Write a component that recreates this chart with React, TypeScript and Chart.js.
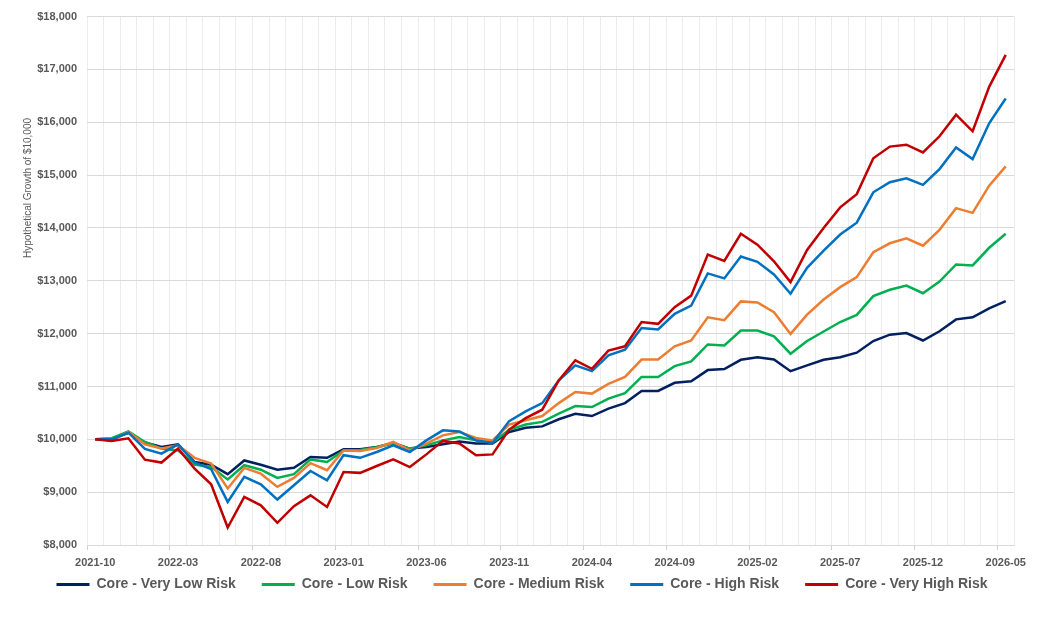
import { useEffect, useRef } from 'react';
import { Chart, registerables } from 'chart.js';

Chart.register(...registerables);

const months = [
  '2021-10', '2021-11', '2021-12',
  '2022-01', '2022-02', '2022-03', '2022-04', '2022-05', '2022-06', '2022-07', '2022-08', '2022-09', '2022-10', '2022-11', '2022-12',
  '2023-01', '2023-02', '2023-03', '2023-04', '2023-05', '2023-06', '2023-07', '2023-08', '2023-09', '2023-10', '2023-11', '2023-12',
  '2024-01', '2024-02', '2024-03', '2024-04', '2024-05', '2024-06', '2024-07', '2024-08', '2024-09', '2024-10', '2024-11', '2024-12',
  '2025-01', '2025-02', '2025-03', '2025-04', '2025-05', '2025-06', '2025-07', '2025-08', '2025-09', '2025-10', '2025-11', '2025-12',
  '2026-01', '2026-02', '2026-03', '2026-04', '2026-05',
];

const veryLowRisk = [
  10000, 10010, 10125, 9940, 9855, 9905, 9570, 9520, 9340, 9600,
  9520, 9425, 9460, 9665, 9650, 9810, 9810, 9855, 9930, 9825,
  9855, 9905, 9960, 9920, 9920, 10140, 10220, 10245, 10380, 10485,
  10440, 10580, 10685, 10915, 10915, 11070, 11100, 11310, 11330, 11505,
  11555, 11510, 11290, 11400, 11505, 11555, 11640, 11860, 11980, 12010,
  11870, 12045, 12270, 12310, 12480, 12615,
];

const lowRisk = [
  10000, 10020, 10150, 9950, 9825, 9790, 9520, 9475, 9240, 9510,
  9425, 9270, 9340, 9620, 9570, 9790, 9800, 9850, 9925, 9825,
  9885, 9980, 10045, 9980, 9940, 10180, 10280, 10330, 10485, 10630,
  10610, 10770, 10875, 11180, 11180, 11385, 11475, 11795, 11775, 12060,
  12060, 11950, 11620, 11860, 12040, 12220, 12355, 12710, 12830, 12910,
  12765, 12985, 13310, 13290, 13625, 13890,
];

const mediumRisk = [
  10000, 9980, 10140, 9905, 9825, 9885, 9650, 9540, 9070, 9460,
  9350, 9100, 9270, 9550, 9415, 9790, 9780, 9835, 9950, 9790,
  9920, 10075, 10140, 10025, 9980, 10280, 10360, 10440, 10685, 10895,
  10865, 11050, 11180, 11510, 11510, 11760, 11870, 12310, 12255, 12610,
  12590, 12405, 11995, 12360, 12645, 12880, 13070, 13540, 13710, 13805,
  13665, 13965, 14375, 14285, 14800, 15165,
];

const highRisk = [
  10000, 10000, 10125, 9820, 9730, 9905, 9560, 9435, 8815, 9290,
  9150, 8860, 9130, 9400, 9225, 9700, 9650, 9760, 9885, 9760,
  9980, 10170, 10150, 9980, 9930, 10345, 10530, 10685, 11115, 11400,
  11290, 11590, 11695, 12105, 12080, 12375, 12530, 13140, 13045, 13460,
  13360, 13120, 12755, 13245, 13570, 13875, 14100, 14675, 14865, 14940,
  14815, 15115, 15525, 15305, 15980, 16450,
];

const veryHighRisk = [
  10000, 9970, 10020, 9615, 9560, 9825, 9445, 9150, 8330, 8910,
  8750, 8420, 8735, 8940, 8720, 9380, 9365, 9495, 9620, 9475,
  9715, 9970, 9920, 9700, 9715, 10185, 10400, 10560, 11115, 11495,
  11335, 11680, 11760, 12220, 12185, 12500, 12720, 13495, 13375, 13890,
  13685, 13370, 12975, 13585, 14000, 14390, 14640, 15320, 15540, 15575,
  15430, 15735, 16145, 15830, 16670, 17275,
];

const seriesNames = [
  'Core - Very Low Risk',
  'Core - Low Risk',
  'Core - Medium Risk',
  'Core - High Risk',
  'Core - Very High Risk',
];
const seriesValues = [veryLowRisk, lowRisk, mediumRisk, highRisk, veryHighRisk];
const seriesColors = ['#002060', '#00B050', '#ED7D31', '#0070C0', '#C00000'];

const yAxisTitle = 'Hypothetical Growth of $10,000';
const yMin = 8000;
const yMax = 18000;
const yStep = 1000;
const labelEvery = 5;

const FONT = '"Liberation Sans", Arial, sans-serif';
const TEXT_COLOR = '#595959';

const X_AXIS_HEIGHT = 24;
const LEGEND_PAD = 26;
const LEGEND_ITEM_OFFSET = 32.5; // distance from plot bottom to legend row top
const LEGEND_X_SHIFT = 15;

export default function App() {
  const ref = useRef<HTMLCanvasElement>(null);

  useEffect(() => {
    if (!ref.current) return;

    const yTitlePlugin = {
      id: 'yTitlePlugin',
      afterDraw(chart: any) {
        const { ctx } = chart;
        ctx.save();
        ctx.translate(28, 188);
        ctx.rotate(-Math.PI / 2);
        ctx.font = `10px ${FONT}`;
        ctx.fillStyle = TEXT_COLOR;
        ctx.textAlign = 'center';
        ctx.textBaseline = 'middle';
        ctx.fillText(yAxisTitle, 0, 0);
        ctx.restore();
      },
    };

    const legendShiftPlugin = {
      id: 'legendShiftPlugin',
      afterLayout(chart: any) {
        const lg = chart.legend;
        if (!lg) return;
        const desiredTop = chart.chartArea.bottom + LEGEND_ITEM_OFFSET - LEGEND_PAD;
        const shift = desiredTop - lg.top;
        lg.top += shift;
        lg.bottom += shift;
        lg.left += LEGEND_X_SHIFT;
        lg.right += LEGEND_X_SHIFT;
      },
    };

    const chart = new Chart(ref.current, {
      type: 'line',
      data: {
        labels: months,
        datasets: seriesNames.map((name, i) => ({
          label: name,
          data: seriesValues[i],
          borderColor: seriesColors[i],
          backgroundColor: seriesColors[i],
          borderWidth: 2.5,
          pointRadius: 0,
          pointHoverRadius: 0,
          tension: 0,
          fill: false,
          order: seriesNames.length - 1 - i,
        })),
      },
      options: {
        responsive: false,
        animation: false,
        events: [],
        layout: { padding: { top: 16, right: 32, bottom: 0, left: 0 } },
        plugins: {
          legend: {
            position: 'bottom',
            maxHeight: 618 - 545 - X_AXIS_HEIGHT,
            labels: {
              boxWidth: 33,
              boxHeight: 3,
              padding: LEGEND_PAD,
              color: TEXT_COLOR,
              font: { family: FONT, size: 14, weight: 'bold' },
              sort: (a: any, b: any) => a.datasetIndex - b.datasetIndex,
              generateLabels: (c: any) =>
                (Chart.defaults.plugins.legend.labels as any)
                  .generateLabels(c)
                  .map((l: any) => ({ ...l, lineWidth: 0 })),
            },
          },
          tooltip: { enabled: false },
        },
        scales: {
          x: {
            offset: true,
            grid: {
              offset: true,
              color: '#ececec',
              lineWidth: 1,
              drawTicks: true,
              tickLength: 5,
              tickColor: (ctx: any) => (ctx.index % labelEvery === 0 ? '#d0d0d0' : 'rgba(0,0,0,0)'),
            },
            border: { color: '#d9d9d9' },
            ticks: {
              autoSkip: false,
              maxRotation: 0,
              minRotation: 0,
              padding: 6,
              color: TEXT_COLOR,
              font: { family: FONT, size: 11, weight: 'bold' },
              callback: (_v: any, i: number) => (i % labelEvery === 0 ? months[i] : ''),
            },
            afterFit: (s: any) => {
              s.height = X_AXIS_HEIGHT;
            },
          },
          y: {
            min: yMin,
            max: yMax,
            grid: { color: '#d9d9d9', drawTicks: false },
            border: { display: false },
            ticks: {
              stepSize: yStep,
              padding: 10,
              color: TEXT_COLOR,
              font: { family: FONT, size: 11, weight: 'bold' },
              callback: (v: any) => '$' + Number(v).toLocaleString('en-US'),
            },
            afterFit: (s: any) => {
              s.width = 87;
            },
          },
        },
      } as any,
      plugins: [yTitlePlugin, legendShiftPlugin],
    });

    return () => chart.destroy();
  }, []);

  return (
    <div style={{ position: 'absolute', left: 0, top: 0, width: 1046, height: 618, background: '#ffffff' }}>
      <canvas ref={ref} width={1046} height={618} style={{ display: 'block' }} />
    </div>
  );
}
